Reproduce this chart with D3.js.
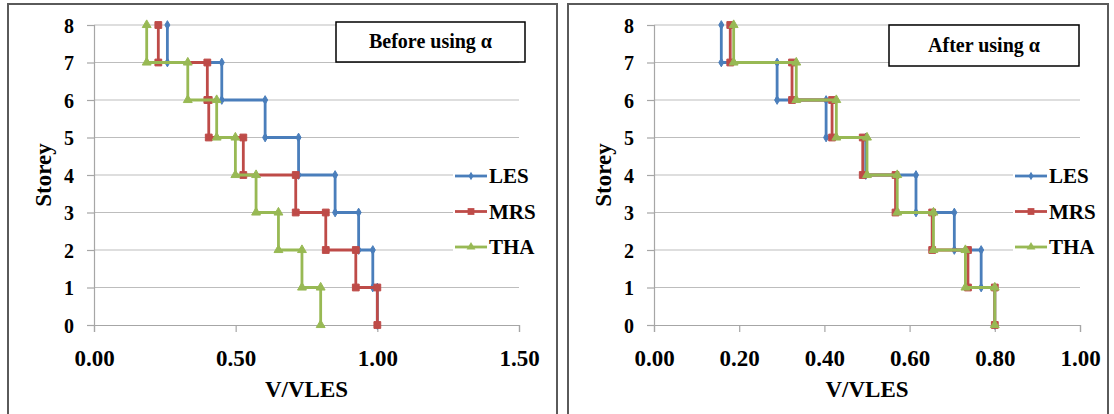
<!DOCTYPE html>
<html>
<head>
<meta charset="utf-8">
<script src="https://cdn.jsdelivr.net/npm/d3@7"></script>
<style>
  html, body { margin: 0; padding: 0; background: #fff; }
  svg { display: block; }
  text { font-family: "Liberation Serif", "Times New Roman", serif; font-weight: bold; fill: #000; }
</style>
</head>
<body>
<svg id="chart" width="1114" height="414"></svg>
<script>
// Storey levels, top to bottom; each value holds from that storey down to the next one
const storeys = [8, 7, 6, 5, 4, 3, 2, 1];

// Shear ratio V/VLES before applying alpha
const beforeLES = [0.259, 0.451, 0.604, 0.722, 0.851, 0.934, 0.984, 1.000];
const beforeMRS = [0.227, 0.400, 0.405, 0.527, 0.712, 0.818, 0.924, 1.000];
const beforeTHA = [0.186, 0.331, 0.433, 0.499, 0.572, 0.651, 0.734, 0.800];

// Shear ratio V/VLES after applying alpha
const afterLES = [0.158, 0.289, 0.404, 0.497, 0.615, 0.705, 0.768, 0.800];
const afterMRS = [0.179, 0.324, 0.418, 0.490, 0.567, 0.653, 0.737, 0.800];
const afterTHA = [0.187, 0.334, 0.428, 0.500, 0.571, 0.656, 0.731, 0.800];

const seriesNames = ["LES", "MRS", "THA"];
const yTicks = [0, 1, 2, 3, 4, 5, 6, 7, 8];
const xTicksBefore = [0, 0.5, 1.0, 1.5];
const xTicksAfter = [0, 0.2, 0.4, 0.6, 0.8, 1.0];
const titles = ["Before using \u03b1", "After using \u03b1"];

const colors = { LES: "#4a7ebb", MRS: "#be4b48", THA: "#98b954" };
const symbols = { LES: d3.symbolDiamond, MRS: d3.symbolSquare, THA: d3.symbolTriangle };
const symbolSizes = { LES: 22, MRS: 46, THA: 34 };

const svg = d3.select("#chart");

const panels = [
  { data: { LES: beforeLES, MRS: beforeMRS, THA: beforeTHA }, xMax: 1.5, ticks: xTicksBefore, title: titles[0],
    frame: [8, 4, 557], plot: [94, 519], box: [336, 22, 189, 40], legendX: 455 },
  { data: { LES: afterLES, MRS: afterMRS, THA: afterTHA }, xMax: 1.0, ticks: xTicksAfter, title: titles[1],
    frame: [568, 4, 1108], plot: [654, 1080], box: [889, 25, 190, 41], legendX: 1015 }
];

const y = d3.scaleLinear().domain([0, 8]).range([325, 25]);

// Turn storey values into the step outline: vertical at each value, horizontal at each floor
function stepPoints(values) {
  const pts = [];
  values.forEach((v, i) => {
    pts.push([v, storeys[i]]);
    pts.push([v, storeys[i] - 1]);
  });
  return pts;
}

panels.forEach(p => {
  const g = svg.append("g");
  const x = d3.scaleLinear().domain([0, p.xMax]).range(p.plot);

  // outer frame
  g.append("rect")
    .attr("x", p.frame[0]).attr("y", p.frame[1])
    .attr("width", p.frame[2] - p.frame[0]).attr("height", 430)
    .attr("fill", "#fff").attr("stroke", "#5a5a5a").attr("stroke-width", 2);

  // horizontal gridlines
  g.selectAll(".grid").data(yTicks.filter(t => t > 0)).enter().append("line")
    .attr("x1", p.plot[0]).attr("x2", p.plot[1])
    .attr("y1", d => y(d)).attr("y2", d => y(d))
    .attr("stroke", "#bdbdbd").attr("stroke-width", 1.2);

  // y axis
  const yAxis = d3.axisLeft(y).tickValues(yTicks).tickSize(7).tickFormat(d3.format("d"));
  const ya = g.append("g").attr("transform", `translate(${p.plot[0]},0)`).call(yAxis);
  ya.select(".domain").attr("stroke", "#a6a6a6").attr("stroke-width", 1.2);
  ya.selectAll(".tick line").attr("stroke", "#a6a6a6").attr("stroke-width", 1.2);
  ya.selectAll(".tick text").attr("x", -20).attr("dy", "0.36em")
    .style("font-size", "20px").style("font-family", "Liberation Serif").style("font-weight", "bold");

  // x axis
  const xAxis = d3.axisBottom(x).tickValues(p.ticks).tickSize(7).tickFormat(d3.format(".2f"));
  const xa = g.append("g").attr("transform", `translate(0,${y(0)})`).call(xAxis);
  xa.select(".domain").attr("stroke", "#a6a6a6").attr("stroke-width", 1.2);
  xa.selectAll(".tick line").attr("stroke", "#a6a6a6").attr("stroke-width", 1.2);
  xa.selectAll(".tick text").attr("y", 0).attr("dy", 0)
    .attr("transform", "translate(0,41)")
    .style("font-size", "23px").style("font-family", "Liberation Serif").style("font-weight", "bold");

  // axis titles
  g.append("text")
    .attr("x", (p.plot[0] + p.plot[1]) / 2).attr("y", 397)
    .attr("text-anchor", "middle").style("font-size", "23px")
    .text("V/VLES");
  g.append("text")
    .attr("transform", `translate(${p.frame[0] + 35},175) rotate(-90)`)
    .attr("text-anchor", "middle").attr("dy", "0.35em").style("font-size", "23px")
    .text("Storey");

  // series
  const line = d3.line().x(d => x(d[0])).y(d => y(d[1]));
  seriesNames.forEach(name => {
    const pts = stepPoints(p.data[name]);
    g.append("path").datum(pts)
      .attr("d", line).attr("fill", "none")
      .attr("stroke", colors[name]).attr("stroke-width", 2.8)
      .attr("stroke-linejoin", "round");
    g.selectAll(".m-" + name).data(pts).enter().append("path")
      .attr("transform", d => `translate(${x(d[0])},${y(d[1])})`)
      .attr("d", d3.symbol().type(symbols[name]).size(symbolSizes[name]))
      .attr("fill", colors[name]).attr("stroke", colors[name]).attr("stroke-width", 1);
  });

  // legend
  const lg = g.append("g");
  lg.append("rect")
    .attr("x", p.legendX - 2).attr("y", 158)
    .attr("width", 90).attr("height", 108).attr("fill", "#fff");
  seriesNames.forEach((name, i) => {
    const ly = 176 + i * 35.5;
    lg.append("line")
      .attr("x1", p.legendX).attr("x2", p.legendX + 32)
      .attr("y1", ly).attr("y2", ly)
      .attr("stroke", colors[name]).attr("stroke-width", 2.8);
    lg.append("path")
      .attr("transform", `translate(${p.legendX + 16},${ly})`)
      .attr("d", d3.symbol().type(symbols[name]).size(symbolSizes[name]))
      .attr("fill", colors[name]);
    lg.append("text")
      .attr("x", p.legendX + 34).attr("y", ly).attr("dy", "0.35em")
      .style("font-size", "21px").text(name);
  });

  // title box
  g.append("rect")
    .attr("x", p.box[0]).attr("y", p.box[1])
    .attr("width", p.box[2]).attr("height", p.box[3])
    .attr("fill", "#fff").attr("stroke", "#000").attr("stroke-width", 1.5);
  g.append("text")
    .attr("x", p.box[0] + p.box[2] / 2).attr("y", p.box[1] + p.box[3] / 2)
    .attr("dy", "0.3em").attr("text-anchor", "middle")
    .style("font-size", "20px").text(p.title);
});
</script>
</body>
</html>
